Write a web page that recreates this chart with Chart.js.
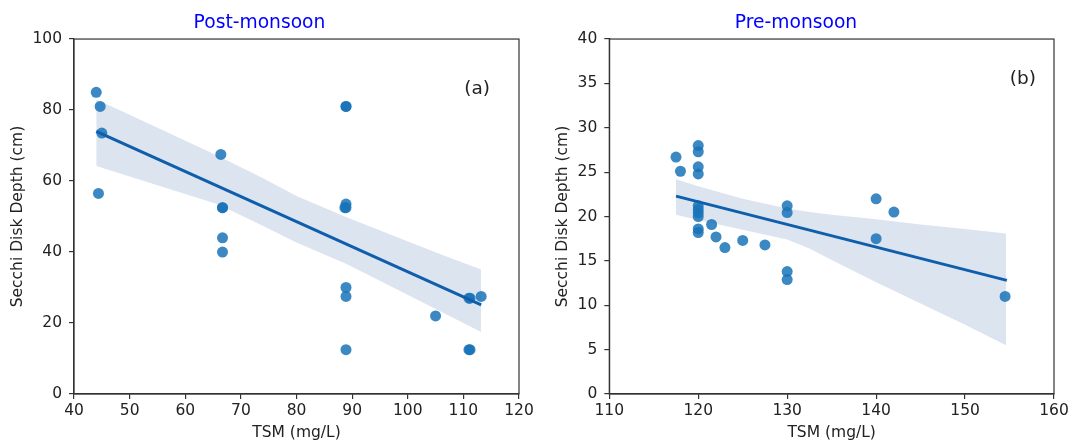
<!DOCTYPE html>
<html>
<head>
<meta charset="utf-8">
<title>Secchi Disk Depth vs TSM</title>
<script src="https://cdn.jsdelivr.net/npm/chart.js@4.4.1/dist/chart.umd.min.js"></script>
<style>
    body { margin: 0; background: #fff; }
    #wrap { position: relative; width: 1076px; height: 445px; }
    #wrap canvas { position: absolute; top: 0; }
</style>
</head>
<body>
<div id="wrap">
    <canvas id="postChart" width="538" height="445" style="left:0"></canvas>
    <canvas id="preChart" width="538" height="445" style="left:538px"></canvas>
</div>
<script>
// Post-monsoon (a) - observations
const postTsm = [44.0, 44.7, 45.0, 44.4, 66.4, 66.7, 66.7, 66.7, 66.7, 88.9, 88.9, 88.9, 88.7, 88.9, 88.9, 88.9, 88.9, 105.0, 111.0, 111.2, 113.2, 111.0, 111.2];
const postDepth = [85.0, 81.0, 73.5, 56.5, 67.5, 52.5, 52.5, 44.0, 40.0, 81.0, 81.0, 53.5, 52.5, 52.5, 30.0, 27.5, 12.5, 22.0, 27.0, 27.0, 27.5, 12.5, 12.5];
// Post-monsoon fit and confidence band
const postFitX = [44.0, 113.2];
const postFitY = [74.0, 25.1];
const postBandX = [44, 50, 58, 66, 74, 80, 89, 98, 106, 113.2];
const postBandUpper = [83.0, 78.7, 72.8, 67.0, 60.8, 55.8, 49.8, 44.2, 39.3, 35.1];
const postBandLower = [64.2, 61.3, 57.3, 53.4, 47.3, 42.7, 36.6, 29.5, 23.2, 17.5];

// Pre-monsoon (b) - observations
const preTsm = [117.5, 118.0, 120, 120, 120, 120, 120, 120, 120, 120, 120, 120, 121.5, 122.0, 123.0, 125.0, 127.5, 130, 130, 130, 130, 140, 140, 142, 154.5];
const preDepth = [26.7, 25.1, 28.0, 27.3, 25.6, 24.8, 21.2, 20.8, 20.4, 20.0, 18.6, 18.2, 19.1, 17.7, 16.5, 17.3, 16.8, 21.2, 20.45, 13.8, 12.9, 22.0, 17.5, 20.5, 11.0];
// Pre-monsoon fit and confidence band
const preFitX = [117.5, 154.7];
const preFitY = [22.3, 12.8];
const preBandX = [117.5, 120, 125, 130, 132.5, 135, 140, 145, 150, 154.6];
const preBandUpper = [24.2, 23.4, 22.0, 20.9, 20.5, 20.2, 19.7, 19.1, 18.6, 18.1];
const preBandLower = [20.2, 19.6, 18.5, 17.4, 16.4, 15.1, 12.6, 10.2, 7.8, 5.5];

const pointColor = "rgba(25, 115, 185, 0.85)";
const lineColor = "#0f5eab";
const bandColor = "#dce4f0";
const axisColor = "#333";
const textColor = "#222";
const fontFamily = "'DejaVu Sans', sans-serif";

function pairs(xs, ys) {
    return xs.map((x, i) => ({ x: x, y: ys[i] }));
}

// draws the box around the plot and the panel letter
const framePlugin = {
    id: "frame",
    afterDraw(chart, args, opts) {
        const { ctx, chartArea: a } = chart;
        ctx.save();
        ctx.strokeStyle = axisColor;
        ctx.lineWidth = 1.2;
        ctx.strokeRect(a.left, a.top, a.width, a.height);
        ctx.font = "18.5px " + fontFamily;
        ctx.fillStyle = textColor;
        ctx.textAlign = "center";
        ctx.textBaseline = "middle";
        ctx.fillText(opts.label, a.left + a.width * opts.fx, a.top + a.height * opts.fy);
        ctx.restore();
    },
};

function makeChart(id, s) {
    const ctx = document.getElementById(id).getContext("2d");
    return new Chart(ctx, {
        type: "scatter",
        data: {
            datasets: [
                {
                    label: "fit",
                    data: pairs(s.fitX, s.fitY),
                    showLine: true,
                    borderColor: lineColor,
                    borderWidth: 3,
                    pointRadius: 0,
                },
                {
                    label: "obs",
                    data: pairs(s.x, s.y),
                    backgroundColor: pointColor,
                    borderColor: "rgba(0,0,0,0)",
                    borderWidth: 0,
                    pointRadius: 5.5,
                },
                {
                    label: "upper",
                    data: pairs(s.bandX, s.upper),
                    showLine: true,
                    borderColor: "rgba(0,0,0,0)",
                    pointRadius: 0,
                    fill: false,
                },
                {
                    label: "lower",
                    data: pairs(s.bandX, s.lower),
                    showLine: true,
                    borderColor: "rgba(0,0,0,0)",
                    backgroundColor: bandColor,
                    pointRadius: 0,
                    fill: 2,
                },
            ],
        },
        options: {
            responsive: false,
            animation: false,
            devicePixelRatio: 1,
            layout: { padding: { left: 0, right: s.padRight, top: 0, bottom: 0 } },
            plugins: {
                legend: { display: false },
                tooltip: { enabled: false },
                title: {
                    display: true,
                    text: s.title,
                    color: "blue",
                    font: { family: fontFamily, size: 18.7, weight: "normal" },
                    padding: { top: 11.7, bottom: 4.9 },
                },
                frame: { label: s.letter, fx: s.letterFx, fy: s.letterFy },
            },
            scales: {
                x: {
                    type: "linear",
                    min: s.xMin,
                    max: s.xMax,
                    afterFit: (scale) => { scale.height = 51; },
                    ticks: { stepSize: s.xStep, color: textColor, padding: 3, font: { family: fontFamily, size: 15.5 } },
                    grid: { drawOnChartArea: false, drawTicks: true, tickLength: 5, color: axisColor, lineWidth: 1.2 },
                    border: { display: true, color: axisColor, width: 1.2 },
                    title: {
                        display: true,
                        text: "TSM (mg/L)",
                        color: textColor,
                        font: { family: fontFamily, size: 15.5 },
                        padding: { top: 0, bottom: 2.7 },
                    },
                },
                y: {
                    type: "linear",
                    min: 0,
                    max: s.yMax,
                    afterFit: (scale) => { scale.width = s.yWidth; },
                    ticks: { stepSize: s.yStep, color: textColor, padding: 7, font: { family: fontFamily, size: 15.5 } },
                    grid: { drawOnChartArea: false, drawTicks: true, tickLength: 5, color: axisColor, lineWidth: 1.2 },
                    border: { display: true, color: axisColor, width: 1.2 },
                    title: {
                        display: true,
                        text: "Secchi Disk Depth (cm)",
                        color: textColor,
                        font: { family: fontFamily, size: 15.5 },
                        padding: { top: s.yTitlePad, bottom: 0 },
                    },
                },
            },
        },
        plugins: [framePlugin],
    });
}

makeChart("postChart", {
    title: "Post-monsoon",
    letter: "(a)", letterFx: 0.906, letterFy: 0.142,
    x: postTsm, y: postDepth,
    fitX: postFitX, fitY: postFitY,
    bandX: postBandX, upper: postBandUpper, lower: postBandLower,
    xMin: 40, xMax: 120, xStep: 10,
    yMax: 100, yStep: 20,
    yWidth: 74, yTitlePad: 8.7, padRight: 19,
});

makeChart("preChart", {
    title: "Pre-monsoon",
    letter: "(b)", letterFx: 0.93, letterFy: 0.113,
    x: preTsm, y: preDepth,
    fitX: preFitX, fitY: preFitY,
    bandX: preBandX, upper: preBandUpper, lower: preBandLower,
    xMin: 110, xMax: 160, xStep: 10,
    yMax: 40, yStep: 5,
    yWidth: 71.3, yTitlePad: 15.7, padRight: 22,
});
</script>
</body>
</html>
